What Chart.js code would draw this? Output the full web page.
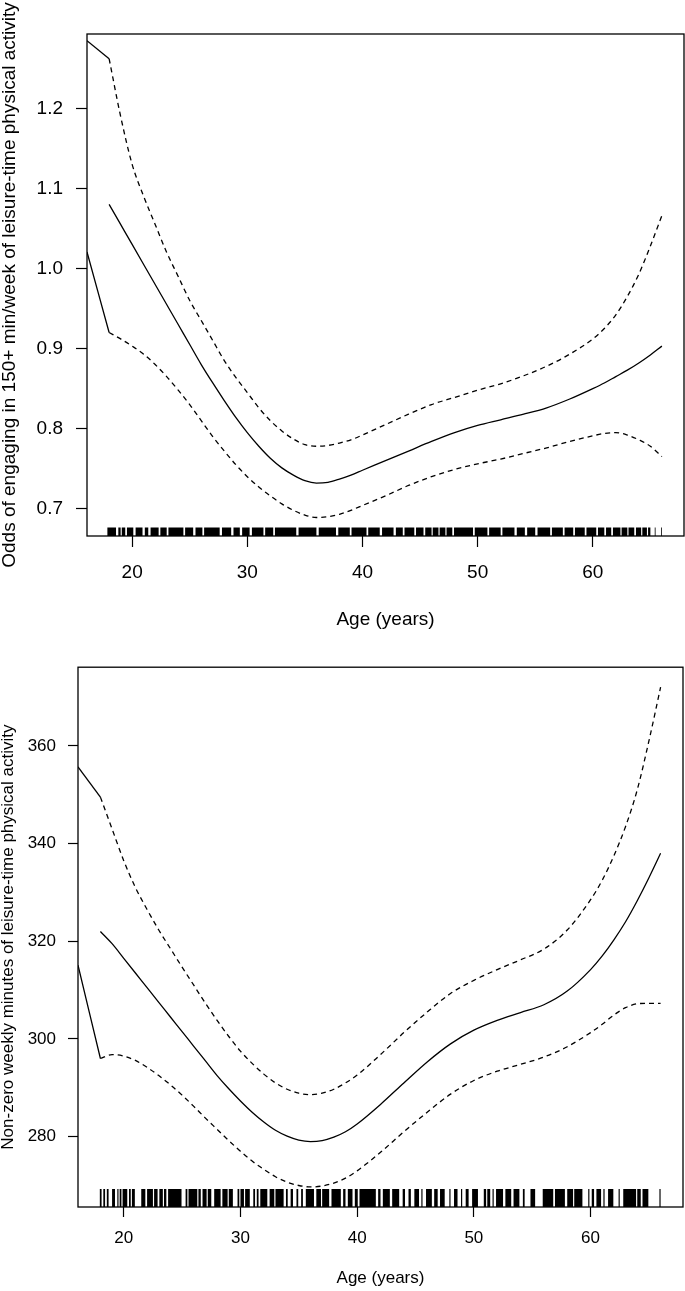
<!DOCTYPE html>
<html>
<head>
<meta charset="utf-8">
<script src="https://cdn.jsdelivr.net/npm/chart.js@4.4.0/dist/chart.umd.min.js"></script>
<style>
  html, body { margin: 0; padding: 0; background: #fff; }
  canvas { position: absolute; left: 0; }
  #oddsChart { top: 0; }
  #minutesChart { top: 645px; }
</style>
</head>
<body>
<canvas id="oddsChart" width="685" height="645"></canvas>
<canvas id="minutesChart" width="685" height="646"></canvas>
<script>
const ages = [18, 19, 20, 21, 22, 23, 24, 25, 26, 27, 28, 29, 30, 31, 32, 33, 34, 35, 36, 37, 38, 39, 40,
              42, 44, 46, 48, 50, 52, 54, 56, 58, 60, 61, 62, 63, 64, 65, 66];

// top panel: odds of 150+ min/week
const oddsFit   = [1.080, 1.055, 1.030, 1.005, 0.980, 0.955, 0.930, 0.905, 0.880, 0.857, 0.835, 0.814, 0.795, 0.778, 0.763, 0.751, 0.742, 0.735, 0.732, 0.733, 0.737, 0.742, 0.748,
                   0.760, 0.772, 0.784, 0.795, 0.804, 0.811, 0.818, 0.826, 0.837, 0.850, 0.857, 0.865, 0.873, 0.882, 0.892, 0.903];
const oddsUpper = [1.262, 1.190, 1.130, 1.090, 1.055, 1.020, 0.990, 0.960, 0.935, 0.910, 0.885, 0.864, 0.845, 0.826, 0.810, 0.797, 0.787, 0.780, 0.778, 0.779, 0.782, 0.786, 0.792,
                   0.805, 0.818, 0.830, 0.839, 0.848, 0.856, 0.866, 0.878, 0.893, 0.912, 0.925, 0.942, 0.965, 0.993, 1.028, 1.066];
const oddsLower = [0.920, 0.912, 0.903, 0.893, 0.880, 0.865, 0.848, 0.830, 0.810, 0.790, 0.772, 0.755, 0.740, 0.727, 0.716, 0.706, 0.698, 0.692, 0.689, 0.690, 0.693, 0.698, 0.704,
                   0.716, 0.729, 0.740, 0.749, 0.756, 0.762, 0.769, 0.776, 0.784, 0.791, 0.794, 0.795, 0.792, 0.786, 0.778, 0.765];

// bottom panel: non-zero weekly minutes
const minutesFit   = [322.0, 319.5, 316.5, 313.5, 310.5, 307.5, 304.5, 301.5, 298.5, 295.5, 292.5, 289.8, 287.3, 285.0, 283.0, 281.3, 280.1, 279.3, 279.0, 279.2, 279.9, 281.0, 282.6,
                      286.6, 291.0, 295.3, 299.0, 301.8, 303.8, 305.4, 307.0, 309.8, 314.2, 317.0, 320.3, 324.0, 328.3, 333.0, 338.0];
const minutesUpper = [349.5, 343.0, 336.5, 331.0, 326.5, 322.3, 318.5, 314.7, 311.0, 307.3, 303.8, 300.5, 297.5, 295.0, 292.8, 291.0, 289.7, 288.9, 288.6, 288.9, 289.7, 291.0, 292.6,
                      296.8, 301.3, 305.5, 309.3, 312.0, 314.2, 316.2, 318.4, 322.3, 328.5, 332.5, 337.5, 343.5, 351.0, 361.0, 372.0];
const minutesLower = [296.0, 296.8, 296.5, 295.6, 294.2, 292.5, 290.6, 288.5, 286.2, 283.8, 281.5, 279.2, 277.0, 275.0, 273.3, 271.8, 270.7, 270.0, 269.7, 269.9, 270.5, 271.5, 273.0,
                      276.8, 281.0, 285.0, 288.7, 291.5, 293.4, 294.8, 296.3, 298.4, 301.3, 303.0, 304.9, 306.4, 307.2, 307.3, 307.3];

// the straight pieces that run in from the left edge of each box
const edgeAge = 16.08;
const oddsUpperEdge = 1.2845;
const oddsLowerEdge = 1.0206;
const minutesUpperEdge = 355.7;
const minutesLowerEdge = 315.1;

// rug: runs of observed ages [from, to]
const oddsRug = [[17.85,18.6],[18.8,19.0],[19.1,19.4],[19.55,20.1],[20.3,20.9],[21.1,21.4],[21.6,22.3],[22.45,23.0],[23.15,24.45],[24.6,25.3],
  [25.5,26.1],[26.25,27.6],[27.8,28.6],[28.8,29.35],[29.55,30.2],[30.4,31.4],[31.55,32.25],[32.4,34.25],[34.45,36.0],[36.2,37.7],
  [37.9,38.9],[39.05,40.35],[40.5,41.5],[41.7,42.7],[42.9,43.5],[43.65,44.5],[44.65,45.3],[45.45,46.0],[46.1,46.6],[46.7,47.2],
  [47.3,47.8],[47.95,49.6],[49.75,50.85],[51.0,52.0],[52.15,53.2],[53.4,54.1],[54.3,55.0],[55.2,56.3],[56.45,57.4],[57.55,58.3],
  [58.45,59.3],[59.45,60.3],[60.45,61.0],[61.15,61.6],[61.75,62.4],[62.5,63.0],[63.1,63.6],[63.75,64.2],[64.3,64.7],[64.8,65.0],
  [65.38,65.44],[65.94,66.0]];
const minutesRug = [[17.95,18.1],[18.25,18.4],[18.55,18.7],[19.0,19.25],[19.45,19.55],[19.65,19.8],[19.9,20.3],[20.45,20.6],[20.7,20.95],
  [21.5,21.85],[22.0,22.5],[22.6,22.9],[23.05,23.35],[23.45,23.65],[23.8,24.95],[25.3,25.45],[25.55,26.3],[26.4,26.6],[26.75,27.1],
  [27.2,27.5],[27.75,28.3],[28.45,28.9],[29.0,29.35],[29.75,29.9],[30.0,30.3],[30.4,30.8],[31.1,31.25],[31.4,31.55],[31.7,32.3],
  [32.5,32.9],[33.0,33.7],[33.9,34.05],[34.3,34.5],[34.8,34.95],[35.2,35.35],[35.6,36.3],[36.5,36.9],[37.0,37.6],[37.8,38.6],
  [38.8,39.0],[39.2,39.6],[39.8,40.05],[40.2,41.6],[41.8,42.0],[42.2,42.8],[43.0,43.6],[43.9,44.1],[44.4,44.6],[44.9,45.3],
  [45.5,45.6],[45.9,46.4],[46.6,46.9],[47.1,47.5],[47.9,48.0],[48.3,48.6],[48.9,49.0],[49.3,49.55],[49.85,50.35],[50.85,51.05],
  [51.15,51.4],[51.6,51.7],[51.9,52.5],[52.7,53.2],[53.4,53.9],[54.2,54.35],[54.85,55.25],[55.9,56.8],[56.95,57.8],[58.0,58.5],
  [58.6,59.3],[59.8,59.9],[60.1,60.3],[60.5,60.9],[61.1,61.2],[61.5,61.95],[62.4,62.5],[62.8,63.9],[64.0,64.3],[64.45,64.95],
  [65.9,66.0]];

// tick labels
const ageTicks = [20, 30, 40, 50, 60];
const oddsTicks = [0.7, 0.8, 0.9, 1.0, 1.1, 1.2];
const minutesTicks = [280, 300, 320, 340, 360];

const FONT = "'Liberation Sans', Arial, Helvetica, sans-serif";

function drawPanel(id, p) {
    const pts = ys => ages.map((a, i) => ({ x: a, y: ys[i] }));
    const line = { borderColor: "#000", borderWidth: 1.3, pointRadius: 0, fill: false, cubicInterpolationMode: "monotone" };
    const dash = [5, 4];

    const rugPlugin = {
        id: "rug",
        afterDatasetsDraw(chart) {
            const { ctx, chartArea, scales } = chart;
            ctx.save();
            ctx.fillStyle = "#000";
            p.rug.forEach(([a, b]) => {
                const x0 = scales.x.getPixelForValue(a);
                const x1 = scales.x.getPixelForValue(b);
                ctx.fillRect(x0, chartArea.bottom - p.rugHeight, Math.max(x1 - x0, 0.8), p.rugHeight);
            });
            ctx.restore();
        }
    };
    const boxPlugin = {
        id: "box",
        afterDraw(chart) {
            const { ctx, chartArea: a } = chart;
            ctx.save();
            ctx.strokeStyle = "#000";
            ctx.lineWidth = 1.3;
            ctx.strokeRect(a.left, a.top, a.right - a.left, a.bottom - a.top);
            ctx.restore();
        }
    };

    const tickGrid = { display: true, drawOnChartArea: false, drawTicks: true, tickLength: p.tick, tickWidth: 1.2, tickColor: "#000" };

    new Chart(document.getElementById(id), {
        type: "line",
        data: {
            datasets: [
                { ...line, data: pts(p.fit) },
                { ...line, data: pts(p.upper), borderDash: dash },
                { ...line, data: pts(p.lower), borderDash: dash },
                { ...line, data: [{ x: edgeAge, y: p.upperEdge }, { x: ages[0], y: p.upper[0] }] },
                { ...line, data: [{ x: edgeAge, y: p.lowerEdge }, { x: ages[0], y: p.lower[0] }] }
            ]
        },
        options: {
            responsive: false,
            animation: false,
            devicePixelRatio: 1,
            layout: { padding: { top: p.padTop, right: p.padRight, left: 0, bottom: 0 } },
            plugins: { legend: { display: false }, tooltip: { enabled: false } },
            scales: {
                x: {
                    type: "linear",
                    min: 16.08,
                    max: 67.92,
                    afterBuildTicks: s => { s.ticks = ageTicks.map(v => ({ value: v })); },
                    afterFit: s => { s.height = p.xHeight; },
                    grid: tickGrid,
                    border: { display: false },
                    ticks: { color: "#000", autoSkip: false, maxRotation: 0, padding: p.xPad, font: { family: FONT, size: p.size } },
                    title: { display: true, text: "Age (years)", color: "#000",
                             font: { family: FONT, size: p.size, lineHeight: 1 }, padding: { top: 0, bottom: p.xTitlePad } }
                },
                y: {
                    type: "linear",
                    min: p.yMin,
                    max: p.yMax,
                    afterBuildTicks: s => { s.ticks = p.yTicks.map(v => ({ value: v })); },
                    afterFit: s => { s.width = p.yWidth; },
                    grid: tickGrid,
                    border: { display: false },
                    ticks: { color: "#000", autoSkip: false, padding: p.yPad, font: { family: FONT, size: p.size },
                             callback: p.fmt },
                    title: { display: true, text: p.yTitle, color: "#000",
                             font: { family: FONT, size: p.size, lineHeight: 1 }, padding: { top: 0, bottom: 0 } }
                }
            }
        },
        plugins: [rugPlugin, boxPlugin]
    });
}

drawPanel("oddsChart", {
    fit: oddsFit, upper: oddsUpper, lower: oddsLower,
    upperEdge: oddsUpperEdge, lowerEdge: oddsLowerEdge,
    rug: oddsRug, rugHeight: 8.5,
    yTicks: oddsTicks, yMin: 0.6659, yMax: 1.2928, fmt: v => v.toFixed(1),
    yTitle: "Odds of engaging in 150+ min/week of leisure-time physical activity",
    size: 19, tick: 11, xPad: 14, yPad: 13, xTitlePad: 15.5,
    padTop: 34, padRight: 1, xHeight: 109, yWidth: 87
});

drawPanel("minutesChart", {
    fit: minutesFit, upper: minutesUpper, lower: minutesLower,
    upperEdge: minutesUpperEdge, lowerEdge: minutesLowerEdge,
    rug: minutesRug, rugHeight: 18,
    yTicks: minutesTicks, yMin: 265.6, yMax: 376.1, fmt: v => String(v),
    yTitle: "Non-zero weekly minutes of leisure-time physical activity",
    size: 17, tick: 10, xPad: 11, yPad: 12, xTitlePad: 4.5,
    padTop: 18, padRight: 2, xHeight: 84, yWidth: 78
});
</script>
</body>
</html>
